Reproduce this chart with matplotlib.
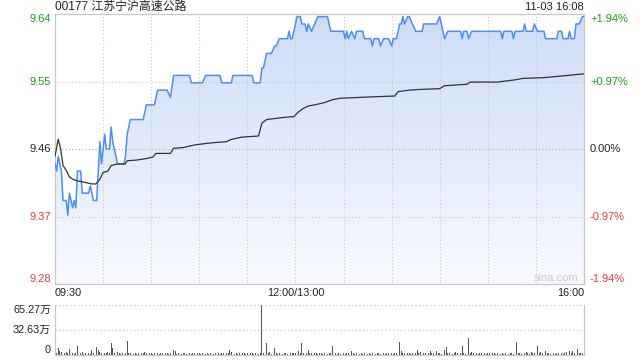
import numpy as np
import matplotlib
matplotlib.use('Agg')
import matplotlib.pyplot as plt
from matplotlib.colors import LinearSegmentedColormap

plt.rcParams['font.family'] = ['Liberation Sans', 'Noto Sans CJK SC']

title = '00177 江苏宁沪高速公路'
stamp = '11-03 16:08'
prev_close = 9.46
price_labels = ['9.64', '9.55', '9.46', '9.37', '9.28']
pct_labels = ['+1.94%', '+0.97%', '0.00%', '-0.97%', '-1.94%']
time_labels = ['09:30', '12:00/13:00', '16:00']
vol_labels = ['65.27万', '32.63万', '0']
vol_max = 65.27

# price path: minute since 09:30 (lunch removed) -> price
price_t = [0, 1, 2, 4, 5, 7, 8, 9, 11, 12, 13, 14, 16, 17, 21, 22, 23, 24, 26, 28,
           29, 31, 32, 34, 35, 36, 37, 39, 43, 44, 45, 47, 55, 56, 57, 62, 64, 70, 72, 74,
           84, 85, 92, 94, 103, 104, 110, 111, 123, 124, 128, 129, 130, 132, 135, 137, 138, 140, 145, 146,
           147, 148, 151, 153, 154, 156, 157, 158, 160, 162, 164, 170, 172, 180, 181, 182, 183, 185, 187, 188,
           192, 193, 197, 198, 199, 202, 203, 205, 208, 210, 211, 213, 215, 216, 217, 218, 220, 221, 225, 229,
           230, 238, 240, 241, 243, 245, 253, 254, 255, 257, 258, 260, 278, 279, 280, 285, 286, 287, 292, 293,
           294, 298, 299, 301, 305, 306, 313, 314, 316, 317, 320, 321, 322, 324, 325, 327, 329, 330]
price_v = [9.44, 9.43, 9.45, 9.43, 9.39, 9.39, 9.37, 9.40, 9.38, 9.39, 9.38, 9.43, 9.43, 9.40, 9.40, 9.41, 9.40, 9.39, 9.39, 9.47,
           9.44, 9.48, 9.46, 9.46, 9.49, 9.47, 9.46, 9.44, 9.44, 9.45, 9.48, 9.50, 9.50, 9.51, 9.52, 9.52, 9.54, 9.54, 9.53, 9.56,
           9.56, 9.55, 9.55, 9.56, 9.56, 9.55, 9.55, 9.56, 9.56, 9.55, 9.55, 9.57, 9.57, 9.59, 9.59, 9.60, 9.60, 9.61, 9.61, 9.62,
           9.61, 9.61, 9.64, 9.64, 9.63, 9.63, 9.62, 9.63, 9.62, 9.63, 9.64, 9.64, 9.62, 9.62, 9.61, 9.62, 9.61, 9.62, 9.61, 9.62,
           9.62, 9.61, 9.61, 9.60, 9.61, 9.61, 9.60, 9.61, 9.61, 9.60, 9.61, 9.61, 9.63, 9.63, 9.64, 9.63, 9.64, 9.64, 9.62, 9.62,
           9.63, 9.63, 9.64, 9.63, 9.61, 9.62, 9.62, 9.61, 9.62, 9.62, 9.61, 9.62, 9.62, 9.61, 9.62, 9.62, 9.61, 9.62, 9.62, 9.63,
           9.62, 9.62, 9.63, 9.62, 9.62, 9.61, 9.61, 9.62, 9.62, 9.61, 9.61, 9.62, 9.61, 9.61, 9.63, 9.63, 9.64, 9.64]

# average price line
avg_t = [0, 2, 3.5, 5, 7, 9, 11, 13.5, 16.7, 20, 23, 25.5, 28, 30, 33, 35, 38.5, 43.7, 45, 51,
         57, 61, 63, 72, 74, 80, 87, 96, 107, 110, 116, 127, 129, 132, 143, 149, 152, 155, 158, 162,
         168, 173, 178, 199, 212, 214, 221, 228, 240, 243, 257, 259, 276, 287, 292, 305, 315, 329, 330]
avg_v = [9.450, 9.4735, 9.4605, 9.4375, 9.431, 9.422, 9.419, 9.417, 9.4155, 9.414, 9.4125, 9.4125, 9.419, 9.428, 9.430, 9.4375, 9.4395, 9.4395, 9.444, 9.445,
         9.447, 9.449, 9.454, 9.454, 9.461, 9.462, 9.4655, 9.468, 9.470, 9.473, 9.476, 9.4777, 9.495, 9.500, 9.503, 9.504, 9.5107, 9.5153, 9.5185, 9.520,
         9.523, 9.527, 9.529, 9.531, 9.532, 9.538, 9.540, 9.541, 9.542, 9.546, 9.548, 9.551, 9.551, 9.554, 9.556, 9.557, 9.559, 9.562, 9.562]

# volume per minute, in 万 shares
volume = [3.0, 2.0, 8.7, 5.6, 3.5, 5.6, 2.5, 4.3, 2.2, 7.8,
          2.6, 2.2, 1.8, 3.0, 11.7, 2.4, 2.0, 4.3, 1.9, 2.5,
          3.0, 2.2, 1.8, 6.5, 2.1, 3.0, 10.0, 6.5, 4.3, 2.5,
          21.0, 2.8, 2.0, 4.3, 2.4, 16.0, 8.7, 2.2, 1.9, 4.3,
          2.1, 1.8, 3.0, 6.5, 2.3, 18.7, 2.5, 2.0, 3.0, 1.9,
          2.2, 1.8, 2.0, 4.3, 2.4, 3.2, 3.5, 2.0, 1.8, 3.0,
          2.2, 1.9, 2.0, 10.9, 2.4, 1.8, 3.0, 2.2, 1.7, 2.0,
          2.4, 1.9, 2.2, 2.0, 6.5, 5.2, 1.8, 2.1, 3.0, 1.7,
          2.0, 2.4, 1.8, 3.0, 2.2, 1.9, 2.0, 2.6, 1.8, 2.1,
          2.3, 1.7, 2.0, 2.8, 1.9, 2.2, 1.8, 2.5, 2.0, 1.8,
          2.1, 1.9, 2.4, 1.8, 2.0, 2.2, 1.7, 2.0, 2.5, 6.5,
          4.3, 2.0, 1.8, 2.2, 1.9, 2.4, 1.8, 2.0, 2.1, 1.7,
          2.2, 1.9, 2.0, 2.4, 1.8, 2.1, 2.6, 1.9, 2.2, 65.27,
          2.4, 2.0, 15.2, 2.2, 4.3, 1.9, 2.0, 8.7, 2.3, 1.8,
          3.0, 2.2, 1.9, 2.0, 2.4, 1.8, 2.2, 2.0, 2.6, 3.0,
          2.4, 7.4, 5.6, 2.8, 15.2, 3.0, 6.5, 2.4, 6.5, 2.2,
          2.6, 5.2, 2.0, 2.4, 1.9, 2.2, 2.0, 1.8, 2.3, 2.0,
          1.9, 2.2, 2.4, 11.7, 6.5, 2.0, 1.8, 2.2, 1.9, 2.0,
          2.4, 1.8, 2.0, 2.2, 1.9, 5.6, 2.1, 1.8, 2.0, 2.3,
          1.9, 2.0, 1.8, 2.2, 2.4, 1.9, 2.0, 1.8, 2.1, 2.2,
          1.8, 2.0, 2.3, 1.9, 2.0, 2.2, 1.8, 2.4, 2.0, 1.9,
          2.1, 1.8, 2.0, 2.6, 24.8, 17.4, 5.2, 2.0, 2.2, 1.8,
          2.4, 2.0, 1.9, 2.2, 2.0, 2.4, 6.5, 2.0, 3.9, 1.8,
          2.2, 2.0, 1.9, 2.4, 5.6, 2.0, 2.2, 4.3, 5.6, 2.0,
          2.2, 1.9, 2.4, 6.5, 10.0, 2.0, 2.2, 5.6, 1.9, 2.4,
          4.3, 2.0, 1.8, 2.2, 11.7, 2.0, 1.9, 2.4, 21.8, 2.2,
          4.3, 2.0, 1.8, 2.2, 1.9, 2.4, 2.0, 1.8, 2.2, 1.9,
          2.0, 2.4, 1.8, 2.2, 2.0, 1.9, 2.3, 2.0, 1.8, 2.2,
          1.9, 2.4, 2.0, 1.8, 2.2, 2.0, 1.9, 2.4, 17.4, 2.0,
          2.2, 1.8, 19.6, 2.0, 4.3, 2.2, 1.9, 4.3, 2.0, 2.4,
          1.8, 11.7, 2.2, 4.3, 2.0, 1.9, 5.2, 2.4, 2.0, 1.8,
          2.2, 2.0, 1.9, 2.4, 2.0, 5.6, 2.2, 1.8, 2.0, 4.3,
          2.2, 5.6, 2.0, 5.6, 2.4, 1.9, 7.4, 2.2, 2.0, 3.0,
          21.8]

W, H = 640, 360
n_min = 330
hi = prev_close * 1.0194
lo = prev_close * 0.9806
green, red, grid, ink = '#1a9e1a', '#f03c3c', '#c8c8c8', '#222222'
px = 0.72  # points per pixel at 100 dpi

fig = plt.figure(figsize=(6.4, 3.6), dpi=100)
ax = fig.add_axes([55 / W, 1 - 284 / H, 529 / W, 270 / H])
axv = fig.add_axes([55 / W, 1 - 355 / H, 529 / W, 50 / H])


def label(axis, xy, coords, text, dx, dy, **kw):
    axis.annotate(text, xy=xy, xycoords=coords, xytext=(dx * px, dy * px),
                  textcoords='offset points', annotation_clip=False, **kw)


# price panel
ax.set_xlim(0, n_min)
ax.set_ylim(lo, hi)
poly = ax.fill_between(price_t, price_v, lo, color='none', lw=0)
cmap = LinearSegmentedColormap.from_list('fade', ['#f8faff', '#cddcf7'])
im = ax.imshow(np.linspace(0, 1, 256).reshape(-1, 1), extent=[0, n_min, lo, hi],
               origin='lower', aspect='auto', cmap=cmap, zorder=1)
im.set_clip_path(poly.get_paths()[0], transform=ax.transData)
ax.plot(price_t, price_v, color='#4d8ef0', lw=1.1, zorder=3)
ax.plot(avg_t, avg_v, color='#333333', lw=0.9, zorder=3)

for m in range(30, n_min, 30):
    ax.axvline(m, color=grid, lw=0.8, ls=(0, (1, 2)), zorder=2)
levels = np.linspace(hi, lo, 5)
for i, yv in enumerate(levels[1:-1]):
    ax.axhline(yv, color='#aaaaaa' if i == 1 else grid, lw=0.8, ls=(0, (1, 2)), zorder=2)

for s in ax.spines.values():
    s.set_color(grid)
    s.set_linewidth(0.9)
ax.set_xticks([])
ax.set_yticks([])

lab_colors = [green, green, ink, red, red]
vas = ['top', 'center', 'center', 'center', 'bottom']
for yv, pl, pc, c, va in zip(levels, price_labels, pct_labels, lab_colors, vas):
    label(ax, (0, yv), ('axes fraction', 'data'), pl, -4, 0, color=c, fontsize=8, ha='right', va=va)
    label(ax, (1, yv), ('axes fraction', 'data'), pc, 6, 0, color=c, fontsize=8, ha='left', va=va)

label(ax, (0, 1), 'axes fraction', title, 0, 7, fontsize=8.6, ha='left', va='center', color=ink)
label(ax, (1, 1), 'axes fraction', stamp, 0, 7, fontsize=8, ha='right', va='center', color=ink)
label(ax, (1, 0), 'axes fraction', 'sina.com', -6, 1, fontsize=8, ha='right', va='bottom', color='#cccccc')

for xpos, lab, ha in zip([0, 150, n_min], time_labels, ['left', 'center', 'right']):
    label(ax, (xpos, 0), ('data', 'axes fraction'), lab, 0, -9, fontsize=7.8, ha=ha, va='center', color=ink)

# volume panel
axv.bar(range(len(volume)), volume, width=0.5, color='#555555', zorder=2)
axv.set_xlim(0, n_min)
axv.set_ylim(0, vol_max)
axv.set_xticks([])
axv.set_yticks([])
for s in axv.spines.values():
    s.set_color(grid)
    s.set_linewidth(0.9)
axv.spines['top'].set_visible(False)
axv.axhline(vol_max, color=grid, lw=0.9, ls=(0, (1, 2)))
axv.axhline(vol_max / 2, color=grid, lw=0.9, ls=(0, (1, 2)))
for yv, lab, va in zip([vol_max, vol_max / 2, 0], vol_labels, ['top', 'center', 'bottom']):
    label(axv, (0, yv), ('axes fraction', 'data'), lab, -4, 0, fontsize=7.8, ha='right', va=va, color=ink)

fig.savefig('out.png', dpi=100)
